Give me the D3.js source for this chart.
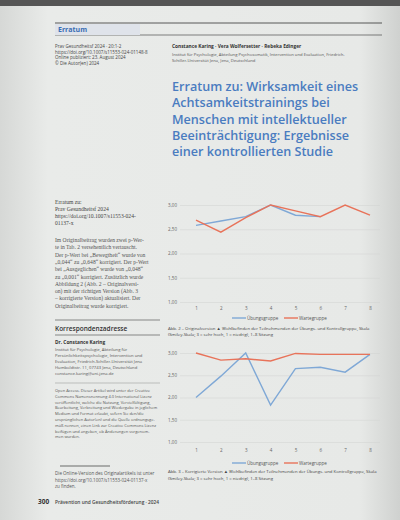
<!DOCTYPE html>
<html><head><meta charset="utf-8">
<script src="https://cdn.jsdelivr.net/npm/d3@7/dist/d3.min.js"></script>
<style>body{margin:0;background:#e6e8e6}svg{display:block}</style></head>
<body><svg id="c" width="400" height="520"></svg>
<script>
const sessions=["1","2","3","4","5","6","7","8"];
const yTicks=[1.0,1.5,2.0,2.5,3.0];
const top_uebung=[2.58,2.67,2.76,3.0,2.79,2.76];
const top_warte=[2.69,2.44,2.74,3.0,2.88,2.76,3.0,2.79];
const bot_uebung=[2.0,2.48,3.0,1.83,2.65,2.68,2.57,2.97];
const bot_warte=[3.0,2.84,2.87,2.82,2.99,2.97,2.97,2.97];
const seriesNames=["Übungsgruppe","Wartegruppe"];
const colors=["#7fa8d6","#e8735a"];

const svg=d3.select("#c");
const fmt=d=>d3.format(".2f")(d).replace(".",",");
const g0=svg.append("defs").append("linearGradient").attr("id","bg");
g0.append("stop").attr("offset","0").attr("stop-color","#d6d8d6");
g0.append("stop").attr("offset","0.12").attr("stop-color","#e9ebe9");
g0.append("stop").attr("offset","0.9").attr("stop-color","#e7e9e7");
g0.append("stop").attr("offset","1").attr("stop-color","#cfd1cf");
svg.append("rect").attr("width",400).attr("height",520).attr("fill","url(#bg)");
svg.append("rect").attr("width",400).attr("height",6).attr("fill","#555");

const T=(x,y,s,o={})=>svg.append("text").attr("x",x).attr("y",y).text(s)
 .attr("font-family",o.f||"Open Sans, sans-serif").attr("font-size",o.fs||5)
 .attr("fill",o.c||"#555").attr("font-weight",o.w||"normal");
const SERIF="Liberation Serif, serif";
svg.append("line").attr("x1",55).attr("x2",382).attr("y1",23).attr("y2",23).attr("stroke","#333").attr("stroke-width",0.8);
svg.append("line").attr("x1",55).attr("x2",382).attr("y1",35).attr("y2",35).attr("stroke","#333").attr("stroke-width",0.6);
svg.append("rect").attr("x",55).attr("y",24).attr("width",85).attr("height",11).attr("fill","#dfe3ea");
T(58,32,"Erratum",{fs:7,c:"#3a6db4",w:"bold"});
["Prav Gesundheitsf 2024 · 20:1-2","https://doi.org/10.1007/s11553-024-01148-8","Online publiziert: 23. August 2024","© Die Autor(en) 2024"].forEach((s,i)=>T(55,48+i*5.5,s,{fs:4.5,c:"#444"}));
T(172,48,"Constance Karing · Vera Wolfersetter · Rebeka Edinger",{fs:4.8,c:"#333",w:"bold"});
T(172,56,"Institut für Psychologie, Abteilung Psychosomatik, Intervention und Evaluation, Friedrich-",{fs:4.2});
T(172,62,"Schiller-Universität Jena, Jena, Deutschland",{fs:4.2});
["Erratum zu: Wirksamkeit eines","Achtsamkeitstrainings bei","Menschen mit intellektueller","Beeinträchtigung: Ergebnisse","einer kontrollierten Studie"].forEach((s,i)=>T(172,91+i*16.3,s,{fs:12.6,c:"#4a7cc0",w:"600"}));
["Erratum zu:","Prav Gesundheitsf 2024","https://doi.org/10.1007/s11553-024-","01137-x"].forEach((s,i)=>T(55,204+i*7,s,{fs:5.6,c:"#444",f:SERIF}));
["Im Originalbeitrag wurden zwei p-Wer-","te in Tab. 2 versehentlich vertauscht.","Der p-Wert bei „Bewegtheit“ wurde von","„0,044“ zu „0,648“ korrigiert. Der p-Wert","bei „Ausgeglichen“ wurde von „0,048“","zu „0,001“ korrigiert. Zusätzlich wurde","Abbildung 2 (Abb. 2 – Originalversi-","on) mit der richtigen Version (Abb. 3","– korrigierte Version) aktualisiert. Der","Originalbeitrag wurde korrigiert."].forEach((s,i)=>T(55,242+i*7.3,s,{fs:5.6,c:"#555",f:SERIF}));
svg.append("line").attr("x1",55).attr("x2",160).attr("y1",320).attr("y2",320).attr("stroke","#444").attr("stroke-width",0.6);
T(55,331,"Korrespondenzadresse",{fs:6.5,c:"#333",w:"600"});
svg.append("line").attr("x1",55).attr("x2",160).attr("y1",335).attr("y2",335).attr("stroke","#444").attr("stroke-width",0.6);
T(55,344,"Dr. Constance Karing",{fs:4.8,c:"#333",w:"bold"});
["Institut für Psychologie, Abteilung für","Persönlichkeitspsychologie, Intervention und","Evaluation, Friedrich-Schiller-Universität Jena","Humboldtstr. 11, 07743 Jena, Deutschland","constance.karing@uni-jena.de"].forEach((s,i)=>T(55,351+i*6,s,{fs:4.2}));
svg.append("line").attr("x1",55).attr("x2",160).attr("y1",383).attr("y2",383).attr("stroke","#777").attr("stroke-width",0.4);
["Open Access. Dieser Artikel wird unter der Creative","Commons Namensnennung 4.0 International Lizenz","veröffentlicht, welche die Nutzung, Vervielfältigung,","Bearbeitung, Verbreitung und Wiedergabe in jeglichem","Medium und Format erlaubt, sofern Sie den/die","ursprünglichen Autor(en) und die Quelle ordnungsge-","mäß nennen, einen Link zur Creative Commons Lizenz","beifügen und angeben, ob Änderungen vorgenom-","men wurden."].forEach((s,i)=>T(55,392+i*5.8,s,{fs:4}));
svg.append("line").attr("x1",60).attr("x2",110).attr("y1",466).attr("y2",466).attr("stroke","#333").attr("stroke-width",0.7);
["Die Online-Version des Originalartikels ist unter","https://doi.org/10.1007/s11553-024-01137-x","zu finden."].forEach((s,i)=>T(55,475+i*6.5,s,{fs:4.5}));
T(38,504,"300",{fs:6.5,c:"#333",w:"bold"});
T(55,504,"Prävention und Gesundheitsförderung · 2024",{fs:4.8,c:"#444",w:"600"});

function chart(y0,y1,labY,legY,uebung,warte){
 const x=d3.scalePoint().domain(sessions).range([196,370]);
 const y=d3.scaleLinear().domain([1,3]).range([y1,y0]);
 const g=svg.append("g");
 g.append("g").attr("transform","translate(180,0)").call(d3.axisLeft(y).tickValues(yTicks).tickSize(-200).tickFormat(fmt))
  .call(a=>{a.select(".domain").remove();a.selectAll("line").attr("stroke","#d0d2d0").attr("stroke-width",0.5);
   a.selectAll("text").attr("fill","#666").attr("font-size",4.5).attr("font-family","Open Sans");});
 g.append("g").attr("transform",`translate(0,${labY})`).call(d3.axisBottom(x).tickSize(0))
  .call(a=>{a.select(".domain").remove();a.selectAll("text").attr("fill","#666").attr("font-size",4.5).attr("font-family","Open Sans");});
 const line=d3.line().x((d,i)=>x(sessions[i])).y(d=>y(d));
 [uebung,warte].forEach((s,k)=>g.append("path").attr("d",line(s)).attr("fill","none").attr("stroke",colors[k]).attr("stroke-width",1.4));
 seriesNames.forEach((n,k)=>{const lx=232+k*52;
  g.append("line").attr("x1",lx).attr("x2",lx+14).attr("y1",legY).attr("y2",legY).attr("stroke",colors[k]).attr("stroke-width",1.4);
  g.append("text").attr("x",lx+15).attr("y",legY+1.5).text(n).attr("font-size",4.5).attr("fill","#555").attr("font-family","Open Sans");});
}
chart(205,302,304,318,top_uebung,top_warte);
T(168,330,"Abb. 2 – Originalversion ▲ Wohlbefinden der Teilnehmenden der Übungs- und Kontrollgruppe, Skala",{fs:4.3,c:"#444"});
T(168,336,"(Smiley-Skala; 3 = sehr hoch, 1 = niedrig), 1–8 Sitzung",{fs:4.3,c:"#444"});
chart(353,442,446,463,bot_uebung,bot_warte);
T(168,473,"Abb. 3 – Korrigierte Version ▲ Wohlbefinden der Teilnehmenden der Übungs- und Kontrollgruppe, Skala",{fs:4.3,c:"#444"});
T(168,480,"(Smiley-Skala; 3 = sehr hoch, 1 = niedrig), 1–8 Sitzung",{fs:4.3,c:"#444"});
</script></body></html>
